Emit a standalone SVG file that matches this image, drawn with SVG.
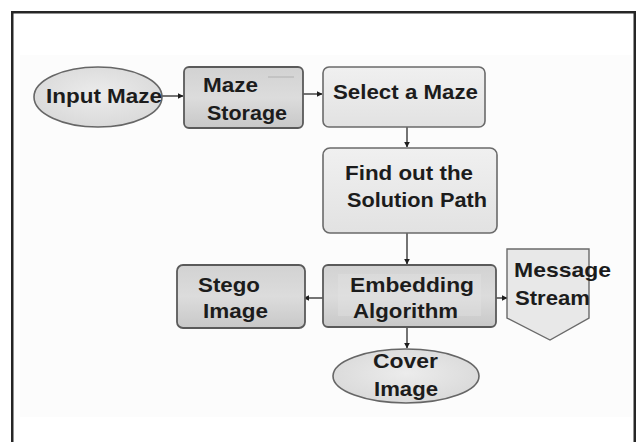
<svg xmlns="http://www.w3.org/2000/svg" width="637" height="442" viewBox="0 0 637 442">
  <defs>
    <style>
      .lbl { font-family: "Liberation Sans", Arial, sans-serif; font-weight: bold; font-size: 21px; fill: #1c1c1c; }
      .box-light { fill: url(#gLight); stroke: #6a6a6a; stroke-width: 1.6; }
      .box-dark { fill: url(#gDark); stroke: #5a5a5a; stroke-width: 1.8; }
      .term { fill: url(#gEll); stroke: #666; stroke-width: 1.6; }
      .conn { fill: none; stroke: #2a2a2a; stroke-width: 1.3; }
    </style>
    <linearGradient id="gLight" x1="0" y1="0" x2="0" y2="1">
      <stop offset="0" stop-color="#f0f0f0"/>
      <stop offset="1" stop-color="#e2e2e2"/>
    </linearGradient>
    <linearGradient id="gDark" x1="0" y1="0" x2="0" y2="1">
      <stop offset="0" stop-color="#d2d2d2"/>
      <stop offset="0.5" stop-color="#dcdcdc"/>
      <stop offset="1" stop-color="#c8c8c8"/>
    </linearGradient>
    <radialGradient id="gEll" cx="0.5" cy="0.45" r="0.6">
      <stop offset="0" stop-color="#ececec"/>
      <stop offset="1" stop-color="#d8d8d8"/>
    </radialGradient>
    <marker id="arrow" viewBox="0 0 10 10" refX="9" refY="5" markerWidth="6" markerHeight="6" markerUnits="userSpaceOnUse" orient="auto">
      <path d="M0,0 L10,5 L0,10 z" fill="#1e1e1e"/>
    </marker>
  </defs>

  <!-- page -->
  <rect x="0" y="0" width="637" height="442" fill="#ffffff"/>
  <rect x="20" y="55" width="612" height="362" fill="#fcfcfc"/>
  <rect x="12.25" y="12.25" width="622.5" height="445" fill="none" stroke="#262626" stroke-width="2.5"/>

  <!-- connectors -->
  <g id="connectors">
    <line class="conn" x1="162" y1="96" x2="183" y2="96" marker-end="url(#arrow)"/>
    <line class="conn" x1="303" y1="94" x2="322" y2="94" marker-end="url(#arrow)"/>
    <line class="conn" x1="407" y1="127" x2="407" y2="147" marker-end="url(#arrow)"/>
    <line class="conn" x1="407" y1="233" x2="407" y2="264" marker-end="url(#arrow)"/>
    <line class="conn" x1="323" y1="298" x2="304" y2="298" marker-end="url(#arrow)"/>
    <line class="conn" x1="496" y1="298" x2="507" y2="298" marker-end="url(#arrow)"/>
    <line class="conn" x1="407" y1="327" x2="407" y2="348" marker-end="url(#arrow)"/>
  </g>

  <!-- nodes -->
  <g id="input-maze">
    <ellipse class="term" cx="98" cy="97" rx="64" ry="30"/>
    <text class="lbl" x="46" y="103" textLength="116" lengthAdjust="spacingAndGlyphs">Input Maze</text>
  </g>

  <g id="maze-storage">
    <rect class="box-dark" x="184" y="67" width="119" height="61" rx="5"/>
    <line x1="268" y1="77" x2="294" y2="77" stroke="#bcbcbc" stroke-width="1.5"/>
    <text class="lbl" x="203" y="92" textLength="55" lengthAdjust="spacingAndGlyphs">Maze</text>
    <text class="lbl" x="207" y="120" textLength="80" lengthAdjust="spacingAndGlyphs">Storage</text>
  </g>

  <g id="select-maze">
    <rect class="box-light" x="323" y="67" width="162" height="60" rx="6"/>
    <text class="lbl" x="333" y="99" textLength="145" lengthAdjust="spacingAndGlyphs">Select a Maze</text>
  </g>

  <g id="find-path">
    <rect class="box-light" x="323" y="148" width="174" height="85" rx="7"/>
    <text class="lbl" x="345" y="180" textLength="128" lengthAdjust="spacingAndGlyphs">Find out the</text>
    <text class="lbl" x="347" y="207" textLength="140" lengthAdjust="spacingAndGlyphs">Solution Path</text>
  </g>

  <g id="embedding">
    <rect class="box-dark" x="323" y="265" width="173" height="62" rx="5"/>
    <rect x="338" y="274" width="143" height="42" fill="#e4e4e4" opacity="0.35"/>
    <text class="lbl" x="350" y="292" textLength="124" lengthAdjust="spacingAndGlyphs">Embedding</text>
    <text class="lbl" x="353" y="318" textLength="105" lengthAdjust="spacingAndGlyphs">Algorithm</text>
  </g>

  <g id="stego-image">
    <rect class="box-dark" x="177" y="265" width="128" height="63" rx="6"/>
    <text class="lbl" x="198" y="292" textLength="62" lengthAdjust="spacingAndGlyphs">Stego</text>
    <text class="lbl" x="203" y="318" textLength="65" lengthAdjust="spacingAndGlyphs">Image</text>
  </g>

  <g id="message-stream">
    <path d="M507,249 L589,249 L589,318 L550,340 L507,318 Z" fill="#e8e8e8" stroke="#6a6a6a" stroke-width="1.4"/>
    <text class="lbl" x="514" y="277" textLength="97" lengthAdjust="spacingAndGlyphs">Message</text>
    <text class="lbl" x="515" y="305" textLength="75" lengthAdjust="spacingAndGlyphs">Stream</text>
  </g>

  <g id="cover-image">
    <ellipse class="term" cx="406" cy="376" rx="73" ry="27"/>
    <text class="lbl" x="373" y="368" textLength="65" lengthAdjust="spacingAndGlyphs">Cover</text>
    <text class="lbl" x="374" y="396" textLength="64" lengthAdjust="spacingAndGlyphs">Image</text>
  </g>
</svg>
